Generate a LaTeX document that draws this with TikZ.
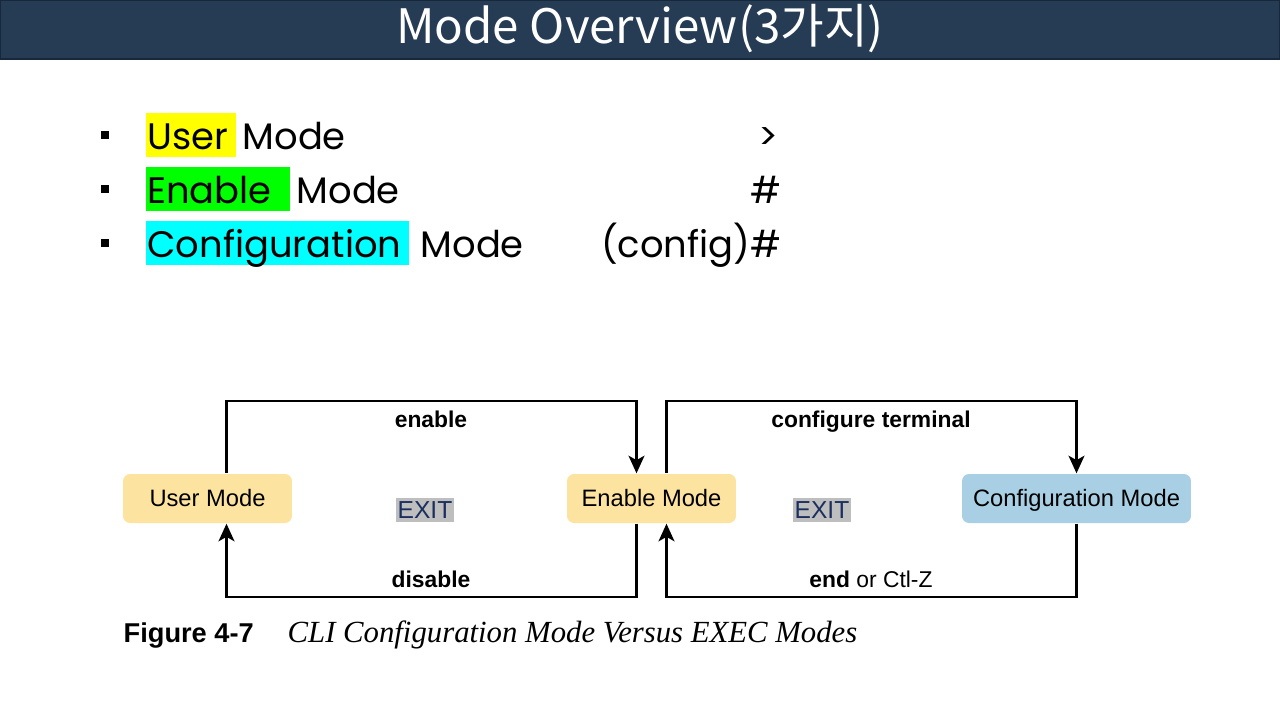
\documentclass[tikz,border=0pt]{standalone}
\usepackage{fontspec}
\setmainfont{Liberation Sans}
\newfontfamily\slidefont{Poppins}
\newfontfamily\krfont{Noto Sans CJK KR}
\newfontfamily\capserif{Liberation Serif}
\usetikzlibrary{arrows.meta,positioning}
\definecolor{titlebar}{HTML}{263C54}
\definecolor{titleedge}{HTML}{16283A}
\definecolor{execfill}{HTML}{FCE3A0}
\definecolor{conffill}{HTML}{A8CFE3}
\definecolor{exitgray}{HTML}{BEBEBE}
\definecolor{exitnavy}{HTML}{1B2F5E}
\definecolor{hlyellow}{HTML}{FFFF00}
\definecolor{hlgreen}{HTML}{00FF00}
\definecolor{hlcyan}{HTML}{00FFFF}
\tikzset{
  every picture/.style={line width=0.75pt},
  modebox/.style={rounded corners=4pt,inner sep=0pt,minimum height=0.98cm,text height=0.95em,text depth=0em,font=\fontsize{13.5}{16}\selectfont},
  loopline/.style={line width=1.6pt,-{Stealth[length=10pt,width=9pt,inset=2.5pt]}},
  cmdlabel/.style={text height=0.9em,text depth=0em,font=\bfseries\fontsize{13}{15}\selectfont},
  exitlabel/.style={fill=exitgray,text=exitnavy,inner xsep=1pt,inner ysep=2pt,font=\fontsize{14}{16}\selectfont},
  hilite/.style={inner xsep=1pt,inner ysep=0pt,text height=0.72cm,text depth=0.16cm,anchor=base west,font=\slidefont\fontsize{21}{24}\selectfont},
  bullettext/.style={inner sep=0pt,anchor=base west,font=\slidefont\fontsize{21}{24}\selectfont},
  bulletmark/.style={fill=black,minimum size=0.16cm,inner sep=0pt}
}
\begin{document}
\begin{tikzpicture}[x=0.02cm,y=-0.02cm]
    \useasboundingbox (0,0) rectangle (1280,720);
    % title bar
    \fill[titlebar] (0,0) rectangle (1280,60);
    \draw[titleedge,line width=1.5pt] (0,59) -- (1280,59);
    \draw[titleedge] (0,0.5) rectangle (1280,59);
    \node[text=white,font=\krfont\fontsize{27}{30}\selectfont] (title) at (640,29) {Mode Overview(3가지)};
    % bullet list
    \foreach \y/\n in {135/1,189/2,243/3} { \node[bulletmark] (dot\n) at (105,\y) {}; }
    \node[hilite,fill=hlyellow] (userhl) at (145,149) {User\,};
    \node[bullettext] (usertxt) at (242,149) {Mode};
    \node[hilite,fill=hlgreen] (enablehl) at (145,203) {Enable\ \,};
    \node[bullettext] (enabletxt) at (296,203) {Mode};
    \node[hilite,fill=hlcyan] (confhl) at (145,257) {Configuration\,};
    \node[bullettext] (conftxt) at (420,257) {Mode};
    \node[bullettext,anchor=base east] (prompt1) at (779,149) {>};
    \node[bullettext,anchor=base east] (prompt2) at (782,203) {\#};
    \node[bullettext,anchor=base east] (prompt3) at (782,257) {(config)\#};
    % mode boxes
    \node[modebox,fill=execfill,minimum width=3.38cm] (user) at (207.5,498.5) {User Mode};
    \node[modebox,fill=execfill,minimum width=3.38cm] (enable) at (651.5,498.5) {Enable Mode};
    \node[modebox,fill=conffill,minimum width=4.58cm] (config) at (1076.5,498.5) {Configuration Mode};
    % loops between the modes
    \coordinate (topline) at (0,401);
    \coordinate (botline) at (0,597);
    \coordinate (userup) at ([xshift=0.38cm]user.north);
    \coordinate (userdown) at ([xshift=0.38cm]user.south);
    \coordinate (enupl) at ([xshift=-0.3cm]enable.north);
    \coordinate (enupr) at ([xshift=0.3cm]enable.north);
    \coordinate (endownl) at ([xshift=-0.3cm]enable.south);
    \coordinate (endownr) at ([xshift=0.3cm]enable.south);
    \draw[loopline] (userup) -- (userup |- topline) -| (enupl);
    \draw[loopline] (endownl) -- (endownl |- botline) -| (userdown);
    \draw[loopline] (enupr) -- (enupr |- topline) -| (config.north);
    \draw[loopline] (config.south) -- (config.south |- botline) -| (endownr);
    \node[cmdlabel] (enablecmd) at (431,420) {enable};
    \node[cmdlabel] (disablecmd) at (431,580) {disable};
    \node[cmdlabel] (confcmd) at (871,420) {configure terminal};
    \node[text height=0.9em,text depth=0em,font=\fontsize{13}{15}\selectfont] (endcmd) at (871,580) {\textbf{end} or Ctl-Z};
    \node[exitlabel] (exit1) at (425,510) {EXIT};
    \node[exitlabel] (exit2) at (822,510) {EXIT};
    % caption
    \node[anchor=base west,inner sep=0pt,font=\bfseries\fontsize{15.5}{18}\selectfont] (fignum) at (123,642) {Figure 4-7};
    \node[anchor=base west,inner sep=0pt,font=\capserif\itshape\fontsize{17.5}{20}\selectfont] (figcap) at (287,642) {CLI Configuration Mode Versus EXEC Modes};
\end{tikzpicture}
\end{document}
